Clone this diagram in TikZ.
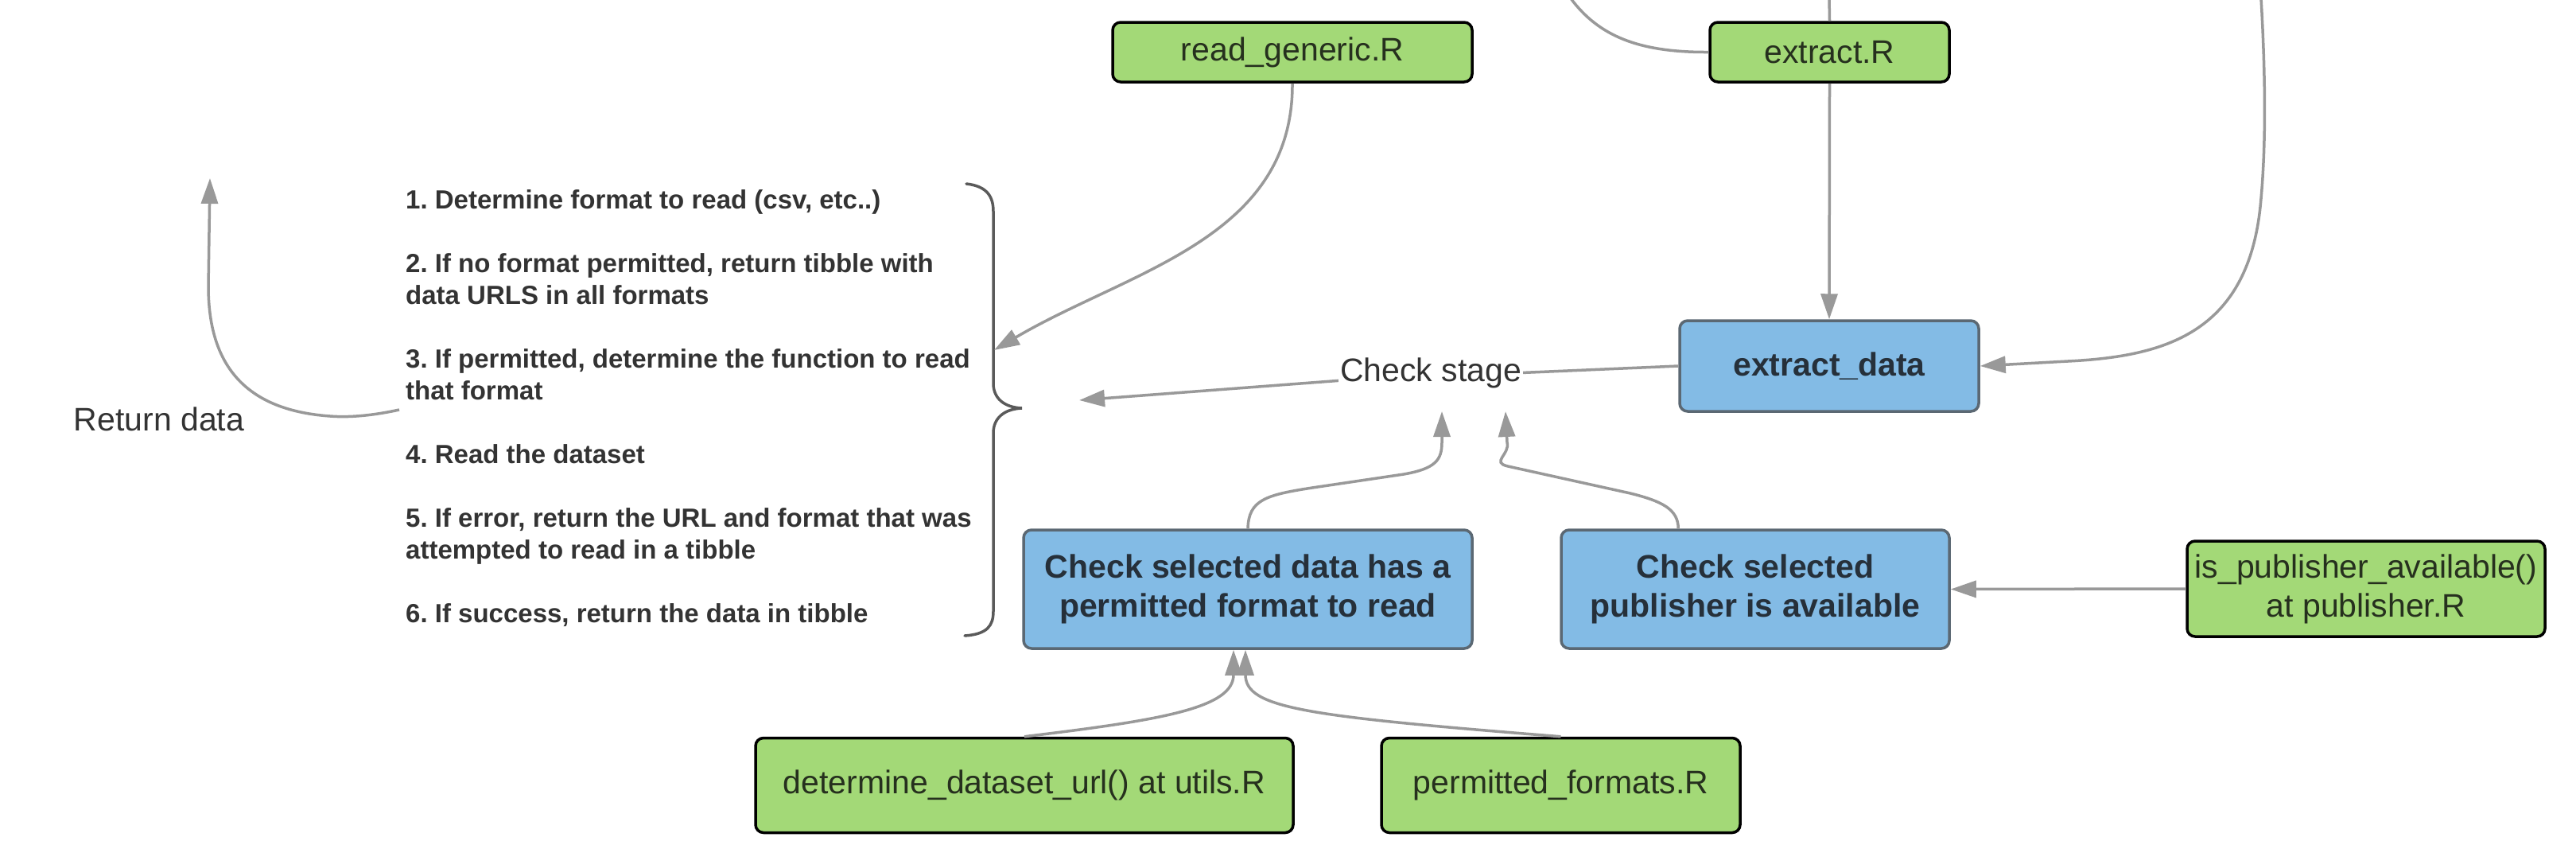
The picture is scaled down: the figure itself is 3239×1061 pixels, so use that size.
\documentclass[tikz,border=0pt]{standalone}
\usepackage{fontspec}
\setmainfont{Liberation Sans}
\usetikzlibrary{arrows.meta,calc}
\definecolor{gfill}{HTML}{A3D977}
\definecolor{bfill}{HTML}{83BBE5}
\definecolor{bdraw}{HTML}{5B6873}
\definecolor{conncol}{HTML}{999999}
\definecolor{gtext}{HTML}{26301E}
\definecolor{btext}{HTML}{26303A}
\definecolor{ltext}{HTML}{333333}
\definecolor{bracecol}{HTML}{5A5A5A}
\frenchspacing
\begin{document}
\begin{tikzpicture}[x=1pt,y=-1pt,
  greenbox/.style={draw=black, line width=3.5pt, fill=gfill, rounded corners=10pt, inner sep=0pt, align=center, text=gtext, font=\fontsize{41}{49}\selectfont},
  bluebox/.style={draw=bdraw, line width=3.5pt, fill=bfill, rounded corners=10pt, inner sep=0pt, align=center, text=btext, font=\fontsize{41}{49}\selectfont\bfseries},
  plain/.style={text=ltext, font=\fontsize{41}{49}\selectfont, inner sep=2pt},
  conn/.style={draw=conncol, line width=3.5pt, -{Triangle[length=32pt,width=21pt]}},
  link/.style={draw=conncol, line width=3.5pt},
  bracestyle/.style={draw=bracecol, line width=3.5pt, line cap=round},
]
\fill[white] (0,0) rectangle (3239,1061);
\useasboundingbox (0,0) rectangle (3239,1061);

% nodes
\node[greenbox, minimum width=452pt, minimum height=75pt] (rg) at (1625,65.5) {read\_generic.R};
\node[greenbox, minimum width=301pt, minimum height=75pt] (ex) at (2300.5,65.5) {extract.R};
\node[bluebox, minimum width=376pt, minimum height=114pt] (ed) at (2300,460) {extract\_data};
\node[bluebox, minimum width=564pt, minimum height=149pt] (chk) at (1569,740.5) {Check selected data has a\\permitted format to read};
\node[bluebox, minimum width=488pt, minimum height=149pt] (pub) at (2207,740.5) {Check selected\\publisher is available};
\node[greenbox, minimum width=450pt, minimum height=120pt] (ispub) at (2975,740) {is\_publisher\_available()\\at publisher.R};
\node[greenbox, minimum width=676pt, minimum height=119pt] (det) at (1288,987) {determine\_dataset\_url() at utils.R};
\node[greenbox, minimum width=451pt, minimum height=119pt] (perm) at (1962.5,987) {permitted\_formats.R};
\node[plain, anchor=base] (cs) at (1799,479) {Check stage};
\node[plain] (rd) at (200,527) {Return data};
\node[anchor=north west, inner sep=0pt, align=left, text=ltext, font=\fontsize{33}{40}\selectfont\bfseries] (steps) at (510,238)
{1. Determine format to read (csv, etc..)\\[40pt]
2. If no format permitted, return tibble with\\
data URLS in all formats\\[40pt]
3. If permitted, determine the function to read\\
that format\\[40pt]
4. Read the dataset\\[40pt]
5. If error, return the URL and format that was\\
attempted to read in a tibble\\[40pt]
6. If success, return the data in tibble};

% brace
\draw[bracestyle] (1215,231) .. controls (1242,234) and (1249,248) .. (1249,266) -- (1249,482)
  .. controls (1249,500) and (1262,512) .. (1285,513)
  .. controls (1262,514) and (1249,526) .. (1249,544) -- (1249,768)
  .. controls (1249,786) and (1242,797) .. (1213,799);

% free ends
\coordinate (top1) at (1975,-2);
\coordinate (top2) at (2300,-2);
\coordinate (top3) at (2843,-2);
\coordinate (bracein) at (1250,440);
\coordinate (csleft) at (1357,503);
\coordinate (csin1) at (1813,517);
\coordinate (csin2) at (1893,517);
\coordinate (rdstart) at (502,515);
\coordinate (rdtip) at (264,224);

% connectors
\draw[conn] (rg.south) .. controls (1626,300) and (1420,340) .. (bracein);
\draw[conn] (ex.south) -- (ed.north);
\draw[link] (top1) .. controls (2010,45) and (2060,66) .. (ex.west);
\draw[link] (ex.north) -- (top2);
\draw[conn] (top3) .. controls (2850,120) and (2848,200) .. (2842,260)
  .. controls (2825,420) and (2720,448) .. (2600,454) -- (ed.east);
\draw[link] (ed.west) -- (cs.east);
\draw[conn] ($(cs.west)+(0,10)$) -- (csleft);
\draw[conn] (chk.north) .. controls (1570,628) and (1592,622) .. (1650,613) -- (1765,596)
  .. controls (1805,589) and (1813,578) .. (1813,556) -- (csin1);
\draw[conn] ($(pub.north west)+(149,0)$) .. controls (2110,640) and (2090,630) .. (2050,620) -- (1896,586)
  .. controls (1874,581) and (1899,571) .. (1895,556) -- (csin2);
\draw[conn] (det.north) .. controls (1460,905) and (1551,890) .. ($(chk.south)+(-18,0)$);
\draw[conn] (perm.north) .. controls (1640,900) and (1566,890) .. ($(chk.south)+(-3,0)$);
\draw[conn] (ispub.west) -- (pub.east);
\draw[conn] (rdstart) .. controls (470,522) and (440,525) .. (415,523)
  .. controls (300,515) and (262,450) .. (262,360) -- (rdtip);
\end{tikzpicture}
\end{document}
